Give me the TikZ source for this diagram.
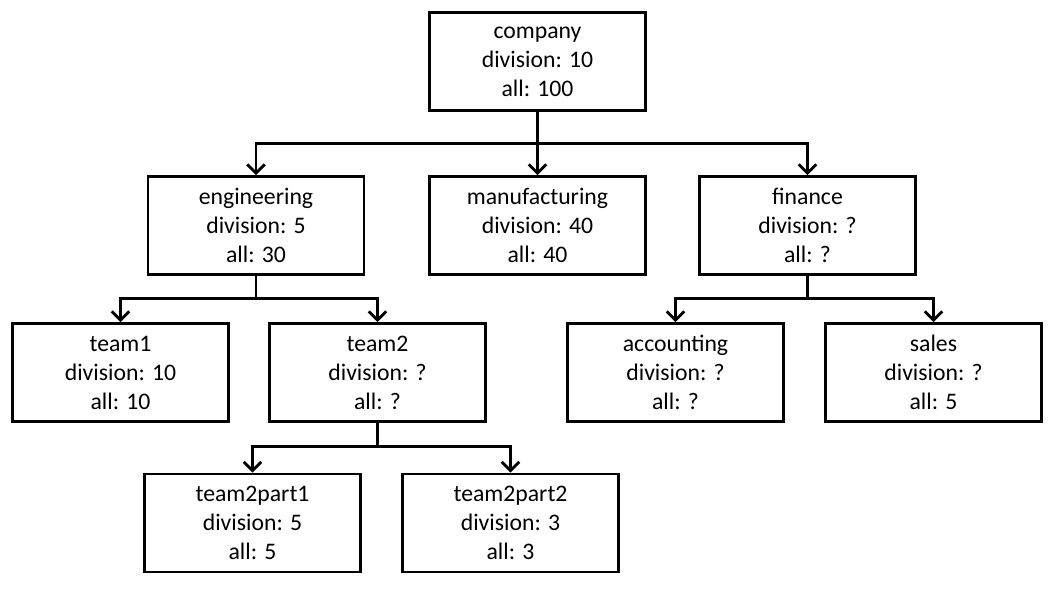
\documentclass[tikz,border=0pt]{standalone}
\usepackage{fontspec}
\setmainfont{Carlito}
\usetikzlibrary{arrows.meta}

\begin{document}
\begin{tikzpicture}[>={Straight Barb[length=5pt,width=10pt]},
  unit/.style={draw,line width=1.6pt,minimum width=4.32cm,minimum height=1.96cm,
    align=center,font=\fontsize{13.5}{16.5}\selectfont},
  link/.style={->,line width=1.6pt}]
  \useasboundingbox (0,0) rectangle (21,11.98);

  % top level
  \node[unit] (company) at (10.75,10.75) {company\\division: 10\\all: 100};

  % divisions
  \node[unit] (engineering) at (5.12,7.47) {engineering\\division: 5\\all: 30};
  \node[unit] (manufacturing) at (10.75,7.47) {manufacturing\\division: 40\\all: 40};
  \node[unit] (finance) at (16.15,7.47) {finance\\division: ?\\all: ?};

  % teams
  \node[unit] (team1) at (2.41,4.53) {team1\\division: 10\\all: 10};
  \node[unit] (team2) at (7.55,4.53) {team2\\division: ?\\all: ?};
  \node[unit] (accounting) at (13.51,4.53) {accounting\\division: ?\\all: ?};
  \node[unit] (sales) at (18.67,4.53) {sales\\division: ?\\all: 5};

  \node[unit] (team2part1) at (5.05,1.52) {team2part1\\division: 5\\all: 5};
  \node[unit] (team2part2) at (10.21,1.52) {team2part2\\division: 3\\all: 3};

  % connectors
  \draw[link] (company.south) -- ++(0,-0.63) -| (engineering.north);
  \draw[link] (company.south) -- (manufacturing.north);
  \draw[link] (company.south) -- ++(0,-0.63) -| (finance.north);

  \draw[link] (engineering.south) -- ++(0,-0.45) -| (team1.north);
  \draw[link] (engineering.south) -- ++(0,-0.45) -| (team2.north);

  \draw[link] (finance.south) -- ++(0,-0.45) -| (accounting.north);
  \draw[link] (finance.south) -- ++(0,-0.45) -| (sales.north);

  \draw[link] (team2.south) -- ++(0,-0.48) -| (team2part1.north);
  \draw[link] (team2.south) -- ++(0,-0.48) -| (team2part2.north);
\end{tikzpicture}
\end{document}
